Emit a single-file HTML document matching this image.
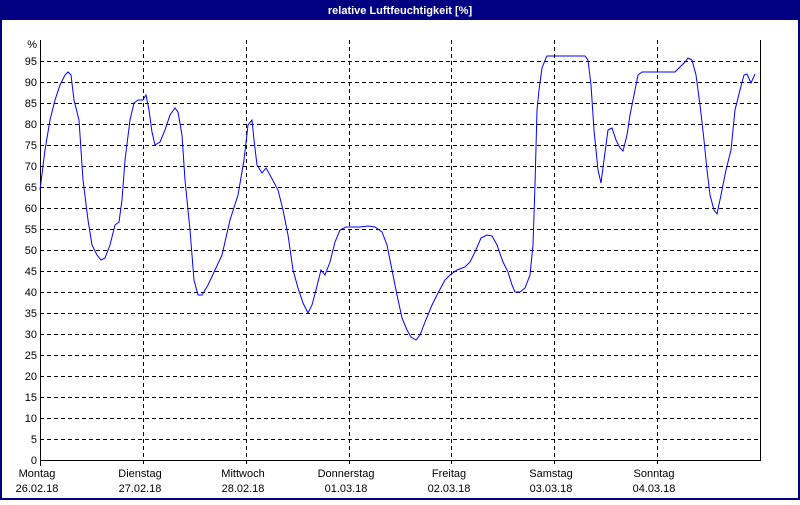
<!DOCTYPE html>
<html><head><meta charset="utf-8"><style>
html,body{margin:0;padding:0;background:#fff;}
body{width:800px;height:500px;overflow:hidden;}
</style></head><body>
<svg width="800" height="500" xmlns="http://www.w3.org/2000/svg" font-family="Liberation Sans, sans-serif" font-size="11">
<rect x="0" y="0" width="800" height="500" fill="#000080"/>
<rect x="2" y="20" width="796" height="478" fill="#fff"/>
<text x="400" y="14" fill="#fff" font-weight="bold" text-anchor="middle">relative Luftfeuchtigkeit [%]</text>
<g stroke="#000" stroke-dasharray="4,3" stroke-width="1">
<path d="M40 61.5H760M40 82.5H760M40 103.5H760M40 124.5H760M40 145.5H760M40 166.5H760M40 187.5H760M40 208.5H760M40 229.5H760M40 250.5H760M40 271.5H760M40 292.5H760M40 313.5H760M40 334.5H760M40 355.5H760M40 376.5H760M40 397.5H760M40 418.5H760M40 439.5H760"/>
<path d="M143.5 40V466M246.5 40V466M349.5 40V466M451.5 40V466M554.5 40V466M657.5 40V466"/>
</g>
<path d="M40.5 40V460.5H760.5V40" fill="none" stroke="#000"/>
<path d="M40.5 460V466" stroke="#000"/>
<g text-anchor="end" fill="#000">
<text x="37" y="48">%</text>
<text x="37" y="65">95</text><text x="37" y="86">90</text><text x="37" y="107">85</text><text x="37" y="128">80</text>
<text x="37" y="149">75</text><text x="37" y="170">70</text><text x="37" y="191">65</text><text x="37" y="212">60</text>
<text x="37" y="233">55</text><text x="37" y="254">50</text><text x="37" y="275">45</text><text x="37" y="296">40</text>
<text x="37" y="317">35</text><text x="37" y="338">30</text><text x="37" y="359">25</text><text x="37" y="380">20</text>
<text x="37" y="401">15</text><text x="37" y="422">10</text><text x="37" y="443">5</text><text x="37" y="464">0</text>
</g>
<g text-anchor="middle" fill="#000">
<text x="37" y="477">Montag</text><text x="37" y="492">26.02.18</text>
<text x="140" y="477">Dienstag</text><text x="140" y="492">27.02.18</text>
<text x="243" y="477">Mittwoch</text><text x="243" y="492">28.02.18</text>
<text x="346" y="477">Donnerstag</text><text x="346" y="492">01.03.18</text>
<text x="449" y="477">Freitag</text><text x="449" y="492">02.03.18</text>
<text x="551" y="477">Samstag</text><text x="551" y="492">03.03.18</text>
<text x="654" y="477">Sonntag</text><text x="654" y="492">04.03.18</text>
</g>
<polyline fill="none" stroke="#0000ff" stroke-width="1" points="40,190 45,150 50,120 55,100 60,85 65,75 68,72 71,75 74,100 79,120 83,180 88,220 92,245 97,255 101,260 105,258 110,245 115,225 119,222 122,200 125,160 130,120 134,103 138,100 143,100 146,95 149,110 152,132 155,145 160,142 165,130 170,115 175,108 178,112 182,135 185,180 190,230 194,280 198,295 202,295 208,285 215,270 222,255 230,220 238,195 244,160 248,125 252,120 254,140 257,165 262,173 266,168 270,175 278,190 283,210 288,235 293,270 298,288 303,303 308,313 312,305 316,290 321,270 325,275 330,262 335,242 340,230 346,227 360,227 368,226 375,227 382,232 387,245 392,270 397,295 402,318 407,330 411,337 416,340 420,335 425,322 432,305 438,293 445,280 450,275 457,270 465,267 470,262 475,252 481,238 487,235 492,236 497,245 503,262 508,272 512,285 515,292 520,292 525,288 530,275 533,245 535,185 537,110 539,90 542,68 546,58 547,56 585,56 588,60 591,85 594,130 598,170 601,183 604,160 608,130 612,128 616,140 620,148 623,151 627,135 630,115 634,95 638,75 642,72 675,72 680,67 685,62 688,58 692,60 696,75 700,105 704,140 707,170 710,195 714,210 717,214 721,195 726,170 731,150 735,110 740,90 744,75 747,74 751,83 755,74"/>
</svg>
</body></html>
